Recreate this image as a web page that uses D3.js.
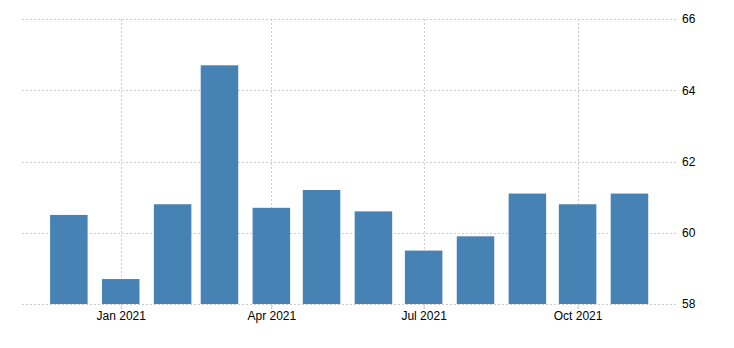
<!DOCTYPE html>
<html>
<head>
<meta charset="utf-8">
<script src="https://cdn.jsdelivr.net/npm/d3@7"></script>
<style>
  body { margin: 0; background: #fff; }
  text { font-family: "Liberation Sans", Arial, sans-serif; font-size: 12px; fill: #000; }
</style>
</head>
<body>
<svg id="chart" width="734" height="348"></svg>
<script>
const months = ["2020-12", "2021-01", "2021-02", "2021-03", "2021-04", "2021-05",
  "2021-06", "2021-07", "2021-08", "2021-09", "2021-10", "2021-11"];
const values = [60.5, 58.7, 60.8, 64.7, 60.7, 61.2, 60.6, 59.5, 59.9, 61.1, 60.8, 61.1];
const yTicks = [58, 60, 62, 64, 66];
const xTickMonths = ["2021-01", "2021-04", "2021-07", "2021-10"];

const parse = d3.timeParse("%Y-%m");
const data = months.map((m, i) => ({ date: parse(m), value: values[i] }));

const svg = d3.select("#chart"),
  margin = { top: 19, right: 56, bottom: 44, left: 22 },
  width = +svg.attr("width") - margin.left - margin.right,
  height = +svg.attr("height") - margin.top - margin.bottom;

const g = svg.append("g")
  .attr("transform", `translate(${margin.left},${margin.top})`);

const x = d3.scaleTime()
  .domain([new Date(2020, 10, 3), new Date(2021, 10, 30)])
  .range([0, width]);
const y = d3.scaleLinear().domain([58, 66]).range([height, 0]);

// horizontal grid
g.append("g")
  .selectAll("line")
  .data(yTicks)
  .join("line")
  .attr("x1", 0)
  .attr("x2", width)
  .attr("y1", (d) => Math.round(y(d)) + 0.5)
  .attr("y2", (d) => Math.round(y(d)) + 0.5)
  .attr("stroke", "#ccc")
  .attr("stroke-dasharray", "2,2");

// vertical grid
const xTicks = xTickMonths.map(parse);
g.append("g")
  .selectAll("line")
  .data(xTicks)
  .join("line")
  .attr("x1", (d) => Math.round(x(d)) + 0.5)
  .attr("x2", (d) => Math.round(x(d)) + 0.5)
  .attr("y1", 0)
  .attr("y2", height + 5)
  .attr("stroke", "#ccc")
  .attr("stroke-dasharray", "2,2");

// bars
const barW = 37.5;
g.selectAll("rect.bar")
  .data(data)
  .join("rect")
  .attr("class", "bar")
  .attr("x", (d) => x(d.date) - barW / 2)
  .attr("width", barW)
  .attr("y", (d) => y(d.value))
  .attr("height", (d) => y(58) - y(d.value))
  .attr("fill", "#4682b4");

// x axis labels
const xAxis = g.append("g")
  .attr("transform", `translate(0,${height})`)
  .call(d3.axisBottom(x).tickValues(xTicks).tickFormat(d3.timeFormat("%b %Y")).tickSize(5));
xAxis.select(".domain").remove();
xAxis.selectAll(".tick line").attr("stroke", "#ccc");
xAxis.selectAll(".tick text").attr("dy", "0.71em").attr("y", 7)
  .style("font-family", "'Liberation Sans', Arial, sans-serif").style("font-size", "12px").attr("fill", "#000");

// y axis labels
const yAxis = g.append("g")
  .attr("transform", `translate(${width},0)`)
  .call(d3.axisRight(y).tickValues(yTicks).tickSize(0).tickPadding(4));
yAxis.select(".domain").remove();
yAxis.selectAll(".tick text")
  .style("font-family", "'Liberation Sans', Arial, sans-serif").style("font-size", "12px").attr("fill", "#000");
</script>
</body>
</html>
